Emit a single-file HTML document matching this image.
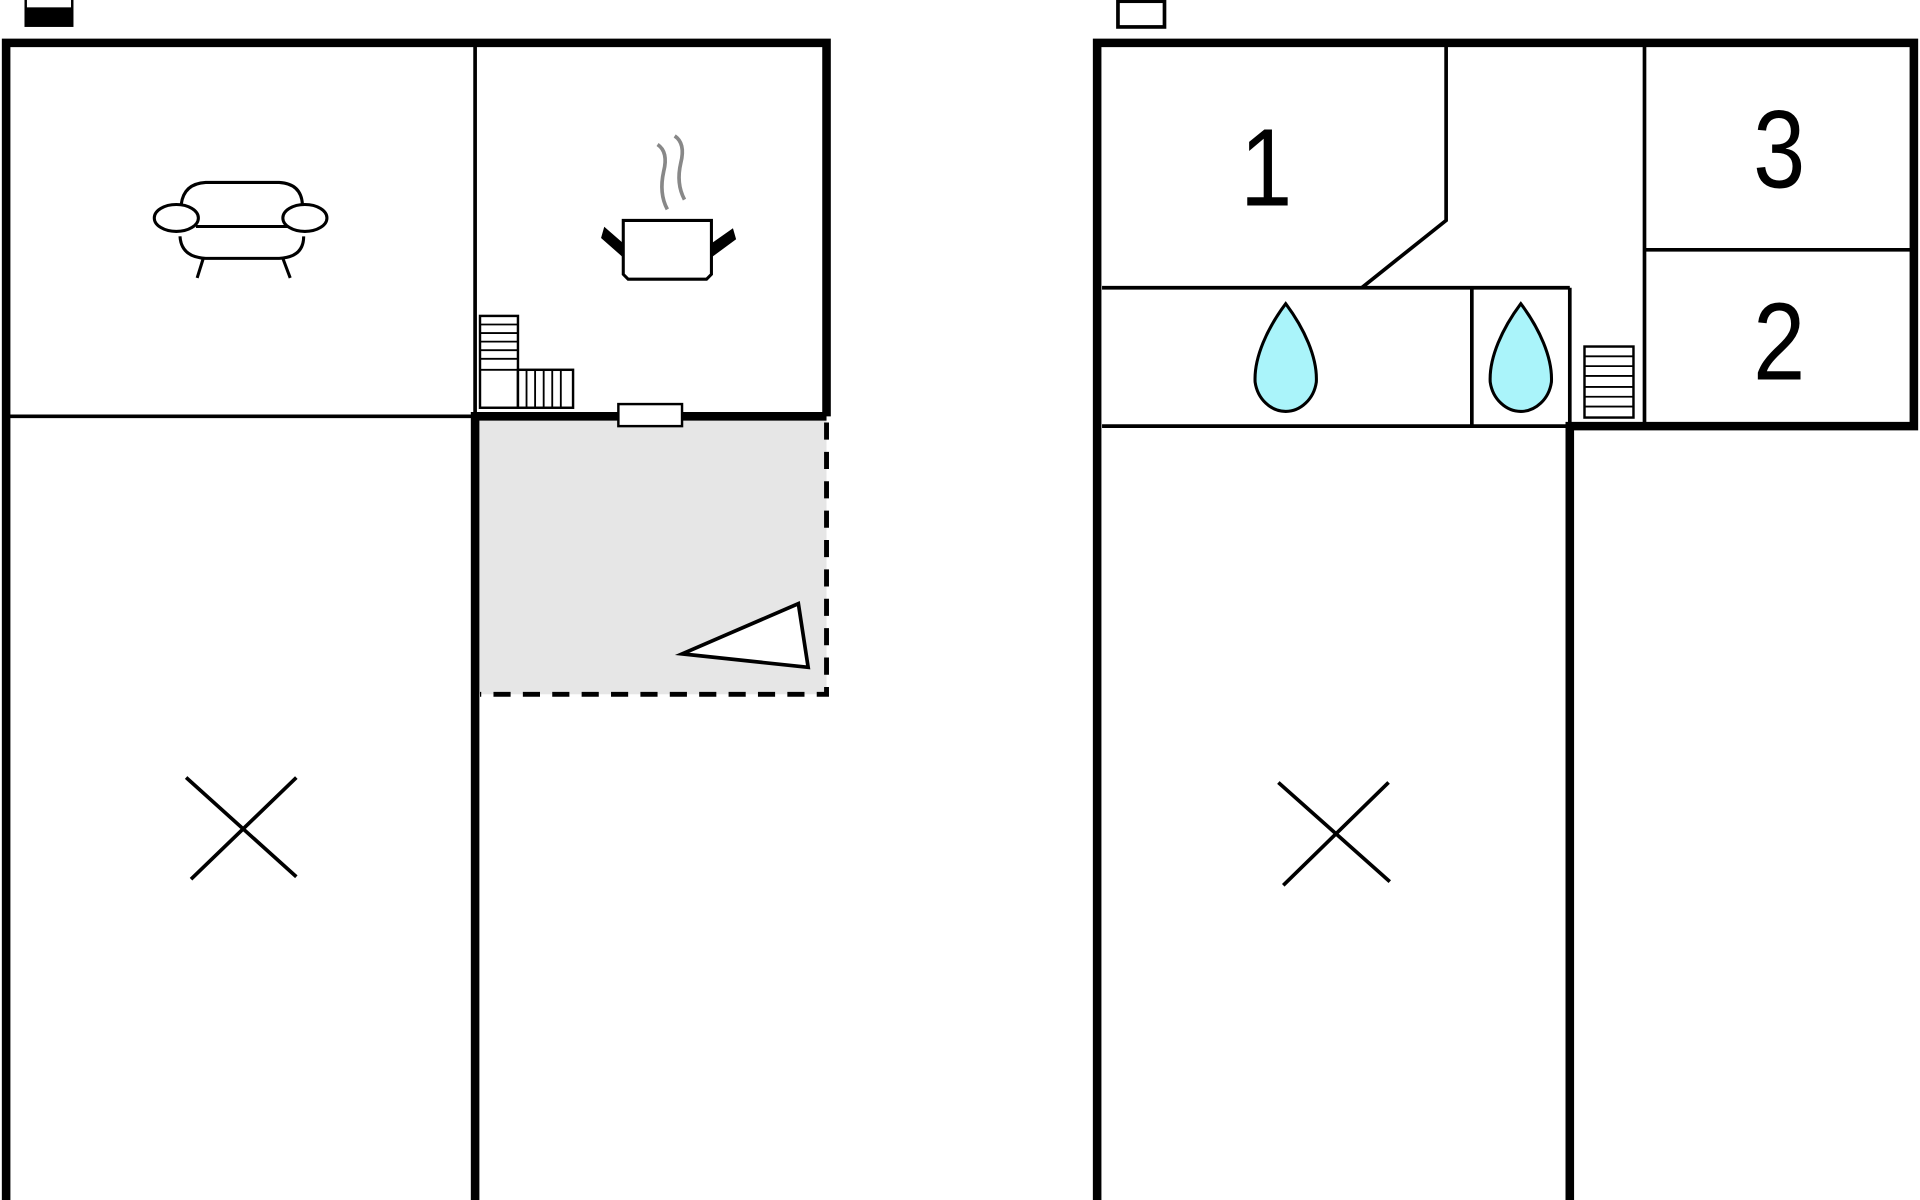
<!DOCTYPE html>
<html><head><style>html,body{margin:0;padding:0;background:#fff;}svg{display:block}</style></head>
<body>
<svg width="1920" height="1200" viewBox="0 0 1568 980" preserveAspectRatio="none" xmlns="http://www.w3.org/2000/svg" font-family="Liberation Sans, sans-serif">
<rect width="1568" height="980" fill="#fff"/>
<rect x="390" y="342" width="285" height="225" fill="#e6e6e6"/>
<rect x="20" y="0" width="40" height="22" fill="#000"/>
<rect x="22" y="0" width="36" height="6" fill="#fff"/>
<g stroke="#000" fill="none">
<path d="M5 980 V35 H675 V340" stroke-width="7"/>
<line x1="388" y1="35" x2="388" y2="340" stroke-width="3"/>
<line x1="5" y1="340" x2="388" y2="340" stroke-width="3"/>
<path d="M388 980 V340 H675" stroke-width="7"/>
<path d="M675 345 V567 H392" stroke-width="4" stroke-dasharray="14,10"/>
<line x1="152" y1="635" x2="242" y2="716" stroke-width="3"/>
<line x1="242" y1="635" x2="156" y2="718" stroke-width="3"/>
<rect x="505" y="330" width="52" height="18" fill="#fff" stroke-width="2"/>
<polygon points="557,534 652,493 660,545" fill="#fff" stroke-width="3"/>
<rect x="392" y="258" width="31" height="75" stroke-width="2" fill="#fff"/>
<path d="M392 265H423M392 272H423M392 279H423M392 286H423M392 293H423M392 302H423" stroke-width="1.5"/>
<rect x="423" y="302" width="45" height="31" stroke-width="2" fill="#fff"/>
<path d="M430 302V333M437 302V333M444 302V333M451 302V333M458 302V333" stroke-width="1.5"/>
<path d="M148 167 Q150 150 168 149 H228 Q246 150 247 167" stroke-width="2.5"/>
<path d="M147 193 Q148 210 168 211 H228 Q248 210 248 193" stroke-width="2.5"/>
<line x1="160" y1="185" x2="235" y2="185" stroke-width="2.5"/>
<ellipse cx="144" cy="178" rx="18" ry="11" fill="#fff" stroke-width="2.5"/>
<ellipse cx="249" cy="178" rx="18" ry="11" fill="#fff" stroke-width="2.5"/>
<line x1="166" y1="211" x2="161" y2="227" stroke-width="2.5"/>
<line x1="231" y1="211" x2="237" y2="227" stroke-width="2.5"/>
<path d="M509 180 H581 V224 L577 228 H513 L509 224 Z" stroke-width="2.5"/>
<path d="M509 209 L492 194 L494 187 L509 200" fill="#000" stroke-width="2"/>
<path d="M581 209 L600 195 L598 188 L581 200" fill="#000" stroke-width="2"/>
<path d="M537 118 Q546 124 542 140 Q538 158 545 171" stroke="#888" stroke-width="3"/>
<path d="M551 111 Q560 117 556 133 Q552 150 559 163" stroke="#888" stroke-width="3"/>
</g>
<g stroke="#000" fill="none">
<rect x="913" y="1" width="38" height="21" stroke-width="3" fill="#fff"/>
<path d="M896 980 V35 H1563 V348 H1282 V980" stroke-width="7"/>
<path d="M1181 35 V180 L1112 235" stroke-width="3"/>
<line x1="900" y1="235" x2="1282" y2="235" stroke-width="3"/>
<line x1="1282" y1="235" x2="1282" y2="348" stroke-width="3"/>
<line x1="900" y1="348" x2="1282" y2="348" stroke-width="3"/>
<line x1="1202" y1="235" x2="1202" y2="348" stroke-width="3"/>
<line x1="1343" y1="35" x2="1343" y2="348" stroke-width="3"/>
<line x1="1343" y1="204" x2="1563" y2="204" stroke-width="3"/>
<rect x="1294" y="283" width="40" height="58" stroke-width="2"/>
<path d="M1294 291H1334M1294 299H1334M1294 307H1334M1294 316H1334M1294 324H1334M1294 332H1334" stroke-width="1.5"/>
<line x1="1044" y1="639" x2="1135" y2="720" stroke-width="3"/>
<line x1="1134" y1="639" x2="1048" y2="723" stroke-width="3"/>
<path d="M1050 248 C1035 268 1024 292 1025 312 C1027 326 1038 336 1050 336 C1062 336 1073 326 1075 312 C1076 292 1065 268 1050 248 Z" fill="#aaf4fa" stroke-width="2.5"/>
<path d="M1242 248 C1227 268 1216 292 1217 312 C1219 326 1230 336 1242 336 C1254 336 1265 326 1267 312 C1268 292 1257 268 1242 248 Z" fill="#aaf4fa" stroke-width="2.5"/>
</g>
<g font-size="90" text-anchor="middle" fill="#000">
<text transform="translate(1034 168) scale(0.85 1)">1</text>
<text transform="translate(1453 153) scale(0.85 1)">3</text>
<text transform="translate(1453 310) scale(0.85 1)">2</text>
</g>
</svg>
</body></html>
